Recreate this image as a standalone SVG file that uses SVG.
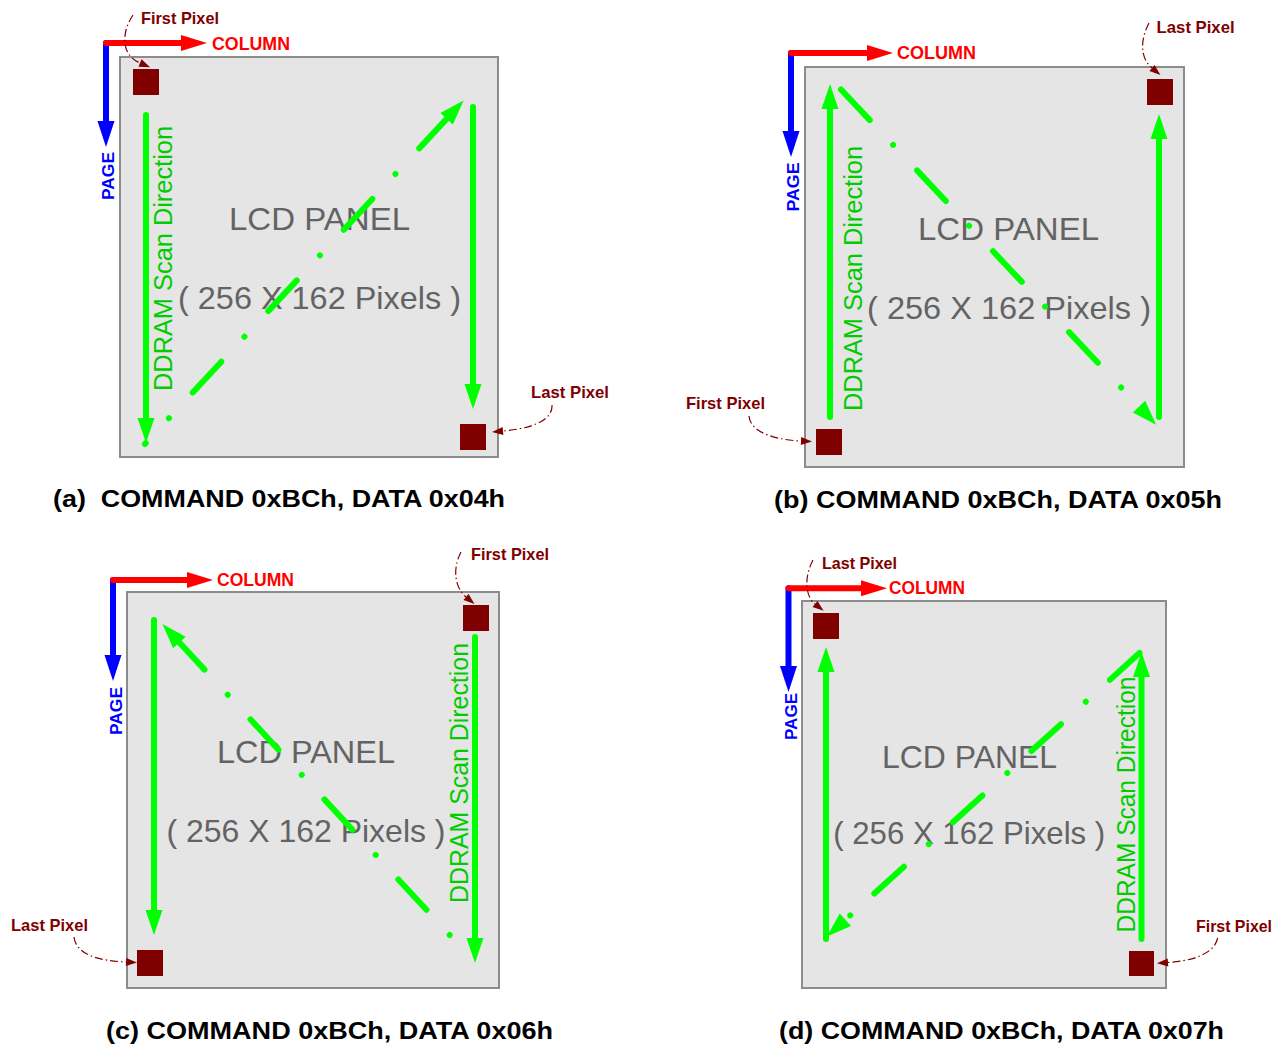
<svg xmlns="http://www.w3.org/2000/svg" width="1282" height="1045" viewBox="0 0 1282 1045">
<style>
.bg{fill:#ffffff}
.panel{fill:#e5e5e5;stroke:#8c8c8c;stroke-width:2}
.px{fill:#800000}
.scan{fill:none;stroke:#00ff00;stroke-width:6;stroke-linecap:round;marker-end:url(#mg)}
.diag{fill:none;stroke:#00ff00;stroke-width:6;stroke-linecap:round;marker-end:url(#mg)}
.col{fill:none;stroke:#ff0000;stroke-width:6;stroke-linecap:round;marker-end:url(#mr)}
.page{fill:none;stroke:#0000ff;stroke-width:6;stroke-linecap:round;marker-end:url(#mb)}
.callout{fill:none;stroke:#800000;stroke-width:1.2;stroke-dasharray:8 3 1.5 3;marker-end:url(#md)}
text{font-family:"Liberation Sans",Arial,sans-serif}
.t-col{font-size:18px;font-weight:bold;fill:#ff0000}
.t-page{font-size:17px;font-weight:bold;fill:#0000ff;text-anchor:middle}
.t-pix{font-size:17px;font-weight:bold;fill:#800000}
.t-lcd{font-size:32px;fill:#636363;text-anchor:middle}
.t-ddram{font-size:25px;fill:#00cc00;text-anchor:middle}
.t-cap{font-size:23.5px;font-weight:bold;fill:#000000}
</style>
<defs>
<marker id="mg" markerUnits="userSpaceOnUse" markerWidth="30" markerHeight="20" viewBox="0 -10 30 20" refX="1" refY="0" orient="auto" overflow="visible"><path d="M0,-8.5 L25,0 L0,8.5 Z" fill="#00ff00"/></marker>
<marker id="mr" markerUnits="userSpaceOnUse" markerWidth="30" markerHeight="20" viewBox="0 -10 30 20" refX="1" refY="0" orient="auto" overflow="visible"><path d="M0,-8 L26,0 L0,8 Z" fill="#ff0000"/></marker>
<marker id="mb" markerUnits="userSpaceOnUse" markerWidth="30" markerHeight="20" viewBox="0 -10 30 20" refX="1" refY="0" orient="auto" overflow="visible"><path d="M0,-8.5 L26,0 L0,8.5 Z" fill="#0000ff"/></marker>
<marker id="md" markerUnits="userSpaceOnUse" markerWidth="14" markerHeight="10" viewBox="0 -5 14 10" refX="0" refY="0" orient="auto" overflow="visible"><path d="M0,-4 L11,0 L0,4 Z" fill="#800000"/></marker>
</defs>
<rect class="bg" x="0" y="0" width="1282" height="1045"/>

<!-- ================= Panel (a) ================= -->
<g id="panel-a">
  <g id="a-lcd">
    <rect class="panel" x="120" y="57" width="378" height="400"/>
    <text class="t-lcd" x="319.5" y="230" textLength="181" lengthAdjust="spacingAndGlyphs">LCD PANEL</text>
    <text class="t-lcd" x="319.5" y="309" textLength="283" lengthAdjust="spacingAndGlyphs">( 256 X 162 Pixels )</text>
    <text class="t-ddram" transform="translate(172,258.5) rotate(-90)" textLength="265" lengthAdjust="spacingAndGlyphs">DDRAM Scan Direction</text>
  </g>
  <g id="a-first-pixel">
    <rect class="px" x="133" y="69" width="26" height="26"/>
    <text class="t-pix" x="141" y="24" textLength="78" lengthAdjust="spacingAndGlyphs">First Pixel</text>
  </g>
  <g id="a-last-pixel">
    <rect class="px" x="460" y="424" width="26" height="26"/>
    <text class="t-pix" x="531" y="398" textLength="78" lengthAdjust="spacingAndGlyphs">Last Pixel</text>
  </g>
  <g id="a-axes">
    <path class="page" d="M106,43 V122"/>
    <path class="col" d="M106,43 H182"/>
    <text class="t-col" x="212" y="50" textLength="78" lengthAdjust="spacingAndGlyphs">COLUMN</text>
    <text class="t-page" transform="translate(114,176) rotate(-90)" textLength="48" lengthAdjust="spacingAndGlyphs">PAGE</text>
  </g>
  <g id="a-connectors">
    <path class="callout" d="M133,15 C121,33 121,55 140,63"/>
    <path class="callout" d="M552,405 C553,422 527,429 503,431"/>
    <path class="scan" d="M146,115 V419"/>
    <path class="diag" d="M145,444 L447.3,118.1" stroke-dasharray="42 34 0.01 35" stroke-dashoffset="40.8"/>
    <path class="scan" d="M473,107 V385"/>
  </g>
  <text class="t-cap" x="53" y="507" xml:space="preserve" textLength="452" lengthAdjust="spacingAndGlyphs">(a)  COMMAND 0xBCh, DATA 0x04h</text>
</g>

<!-- ================= Panel (b) ================= -->
<g id="panel-b">
  <g id="b-lcd">
    <rect class="panel" x="805" y="67" width="379" height="400"/>
    <text class="t-lcd" x="1008.5" y="239.5" textLength="181" lengthAdjust="spacingAndGlyphs">LCD PANEL</text>
    <text class="t-lcd" x="1009" y="319" textLength="284" lengthAdjust="spacingAndGlyphs">( 256 X 162 Pixels )</text>
    <text class="t-ddram" transform="translate(862,278.5) rotate(-90)" textLength="265" lengthAdjust="spacingAndGlyphs">DDRAM Scan Direction</text>
  </g>
  <g id="b-first-pixel">
    <rect class="px" x="816" y="429" width="26" height="26"/>
    <text class="t-pix" x="686" y="409.3" textLength="79" lengthAdjust="spacingAndGlyphs">First Pixel</text>
  </g>
  <g id="b-last-pixel">
    <rect class="px" x="1147" y="79" width="26" height="26"/>
    <text class="t-pix" x="1156.6" y="33.3" textLength="78" lengthAdjust="spacingAndGlyphs">Last Pixel</text>
  </g>
  <g id="b-axes">
    <path class="page" d="M791,53 V132"/>
    <path class="col" d="M791,53 H868"/>
    <text class="t-col" x="897" y="59.3" textLength="79" lengthAdjust="spacingAndGlyphs">COLUMN</text>
    <text class="t-page" transform="translate(799,187) rotate(-90)" textLength="49" lengthAdjust="spacingAndGlyphs">PAGE</text>
  </g>
  <g id="b-connectors">
    <path class="callout" d="M1149,23 C1140,40 1140,58 1152,68"/>
    <path class="callout" d="M749,416 C750,432 775,440 801,441"/>
    <path class="scan" d="M830,417 V108"/>
    <path class="diag" d="M841,89.5 L1139.7,407.3" stroke-dasharray="42 34 0.01 35" stroke-dashoffset="0"/>
    <path class="scan" d="M1159,417 V138"/>
  </g>
  <text class="t-cap" x="774" y="508" textLength="448" lengthAdjust="spacingAndGlyphs">(b) COMMAND 0xBCh, DATA 0x05h</text>
</g>

<!-- ================= Panel (c) ================= -->
<g id="panel-c">
  <g id="c-lcd">
    <rect class="panel" x="127" y="592" width="372" height="396"/>
    <text class="t-lcd" x="306" y="763" textLength="178" lengthAdjust="spacingAndGlyphs">LCD PANEL</text>
    <text class="t-lcd" x="306" y="842" textLength="279" lengthAdjust="spacingAndGlyphs">( 256 X 162 Pixels )</text>
    <text class="t-ddram" transform="translate(467.5,773) rotate(-90)" textLength="260" lengthAdjust="spacingAndGlyphs">DDRAM Scan Direction</text>
  </g>
  <g id="c-first-pixel">
    <rect class="px" x="463" y="605" width="26" height="26"/>
    <text class="t-pix" x="471" y="560" textLength="78" lengthAdjust="spacingAndGlyphs">First Pixel</text>
  </g>
  <g id="c-last-pixel">
    <rect class="px" x="137" y="950" width="26" height="26"/>
    <text class="t-pix" x="11" y="930.7" textLength="77" lengthAdjust="spacingAndGlyphs">Last Pixel</text>
  </g>
  <g id="c-axes">
    <path class="page" d="M113,580 V656"/>
    <path class="col" d="M113,580 H188"/>
    <text class="t-col" x="217" y="585.7" textLength="77" lengthAdjust="spacingAndGlyphs">COLUMN</text>
    <text class="t-page" transform="translate(122,711) rotate(-90)" textLength="48" lengthAdjust="spacingAndGlyphs">PAGE</text>
  </g>
  <g id="c-connectors">
    <path class="callout" d="M461,552 C452,569 455,588 466,597"/>
    <path class="callout" d="M74,937 C76,955 100,961 126,962"/>
    <path class="scan" d="M475,637 V939"/>
    <path class="diag" d="M449.7,935 L178.7,641.7" stroke-dasharray="41.3 33.4 0.01 34.3" stroke-dashoffset="74.7"/>
    <path class="scan" d="M154,620 V911"/>
  </g>
  <text class="t-cap" x="106" y="1039" textLength="447" lengthAdjust="spacingAndGlyphs">(c) COMMAND 0xBCh, DATA 0x06h</text>
</g>

<!-- ================= Panel (d) ================= -->
<g id="panel-d">
  <g id="d-lcd">
    <rect class="panel" x="802" y="601" width="364" height="387"/>
    <text class="t-lcd" x="969.5" y="768" textLength="175" lengthAdjust="spacingAndGlyphs">LCD PANEL</text>
    <text class="t-lcd" x="969.2" y="844" textLength="272" lengthAdjust="spacingAndGlyphs">( 256 X 162 Pixels )</text>
    <text class="t-ddram" transform="translate(1134.5,804.5) rotate(-90)" textLength="256" lengthAdjust="spacingAndGlyphs">DDRAM Scan Direction</text>
  </g>
  <g id="d-first-pixel">
    <rect class="px" x="1129" y="951" width="25" height="25"/>
    <text class="t-pix" x="1196" y="932" textLength="76" lengthAdjust="spacingAndGlyphs">First Pixel</text>
  </g>
  <g id="d-last-pixel">
    <rect class="px" x="813" y="613" width="26" height="26"/>
    <text class="t-pix" x="822" y="569.3" textLength="75" lengthAdjust="spacingAndGlyphs">Last Pixel</text>
  </g>
  <g id="d-axes">
    <path class="page" d="M788.5,588.3 V667"/>
    <path class="col" d="M788.5,588.3 H862"/>
    <text class="t-col" x="889" y="594.3" textLength="76" lengthAdjust="spacingAndGlyphs">COLUMN</text>
    <text class="t-page" transform="translate(797,716.5) rotate(-90)" textLength="47" lengthAdjust="spacingAndGlyphs">PAGE</text>
  </g>
  <g id="d-connectors">
    <path class="callout" d="M1217.7,938 C1214,955 1190,961 1168,962.5"/>
    <path class="callout" d="M813,560 C804,577 805,596 815,604"/>
    <path class="scan" d="M1141.5,939 V676"/>
    <path class="diag" d="M1139.5,653 L844.7,920.4" stroke-dasharray="40 32.5 0.01 33.5" stroke-dashoffset="0"/>
    <path class="scan" d="M826,939 V671"/>
  </g>
  <text class="t-cap" x="779" y="1039" textLength="445" lengthAdjust="spacingAndGlyphs">(d) COMMAND 0xBCh, DATA 0x07h</text>
</g>
</svg>
